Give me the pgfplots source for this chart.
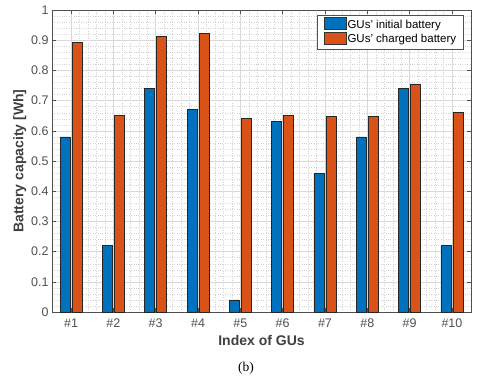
\documentclass[border=0pt]{standalone}
\usepackage{pgfplots}
\pgfplotsset{compat=1.18}
\usepackage{fontspec}
\setmainfont{Liberation Sans}
\newfontfamily\timesfont{Liberation Serif}
\definecolor{mblue}{RGB}{0,114,189}
\definecolor{morange}{RGB}{217,83,25}
\definecolor{axgray}{RGB}{80,80,80}
\begin{document}
\begin{tikzpicture}
\path[use as bounding box] (-52pt,-78pt) rectangle (426pt,312pt);
\begin{axis}[
  scale only axis,
  width=419pt, height=302pt,
  xmin=0.55, xmax=10.45, ymin=0, ymax=1,
  xtick={1,...,10},
  xticklabels={\#1,\#2,\#3,\#4,\#5,\#6,\#7,\#8,\#9,\#10},
  ytick={0,0.1,...,1.0},
  yticklabels={0,0.1,0.2,0.3,0.4,0.5,0.6,0.7,0.8,0.9,1},
  minor x tick num=4, minor y tick num=4,
  grid=both,
  major grid style={gray!30, line width=0.4pt},
  minor grid style={gray!35, dotted, line width=0.3pt},
  tick align=inside,
  major tick length=4pt, minor tick length=0pt,
  tick style={axgray, line width=0.5pt},
  axis line style={axgray, line width=0.6pt},
  ticklabel style={font=\fontsize{12.5}{14}\selectfont, text=axgray},
  xticklabel style={yshift=-3pt},
  yticklabel style={xshift=0pt},
  /pgf/number format/assume math mode=true,
  xlabel={\textbf{Index of GUs}},
  ylabel={\textbf{Battery capacity [Wh]}},
  label style={font=\fontsize{14}{16}\selectfont, text=black!75},
  xlabel style={yshift=-1pt},
  ylabel style={yshift=-2pt},
  legend style={at={(rel axis cs:0.983,0.983)}, anchor=north east,
    font=\fontsize{11.5}{13}\selectfont, draw=axgray, fill=white,
    inner xsep=6pt, inner ysep=2pt, row sep=0pt, column sep=0pt,
    nodes={inner xsep=1.5pt, inner ysep=2.5pt},
    cells={anchor=west}},
  legend image code/.code={\draw[#1, draw=black!80] (0pt,-5pt) rectangle (22pt,7pt);},
  axis on top=false,
]
\addplot[ybar, bar width=10pt, bar shift=-6pt, fill=mblue, draw=black!85, line width=0.5pt]
  coordinates {(1,0.58) (2,0.22) (3,0.74) (4,0.67) (5,0.04) (6,0.63) (7,0.46) (8,0.58) (9,0.74) (10,0.22)};
\addplot[ybar, bar width=10pt, bar shift=6pt, fill=morange, draw=black!85, line width=0.5pt]
  coordinates {(1,0.892) (2,0.65) (3,0.912) (4,0.922) (5,0.64) (6,0.65) (7,0.648) (8,0.648) (9,0.755) (10,0.662)};
\legend{GUs' initial battery, GUs' charged battery}
\end{axis}
\node[font=\timesfont\fontsize{13.5}{15}\selectfont] at (194pt,-56pt) {(b)};
\end{tikzpicture}
\end{document}
